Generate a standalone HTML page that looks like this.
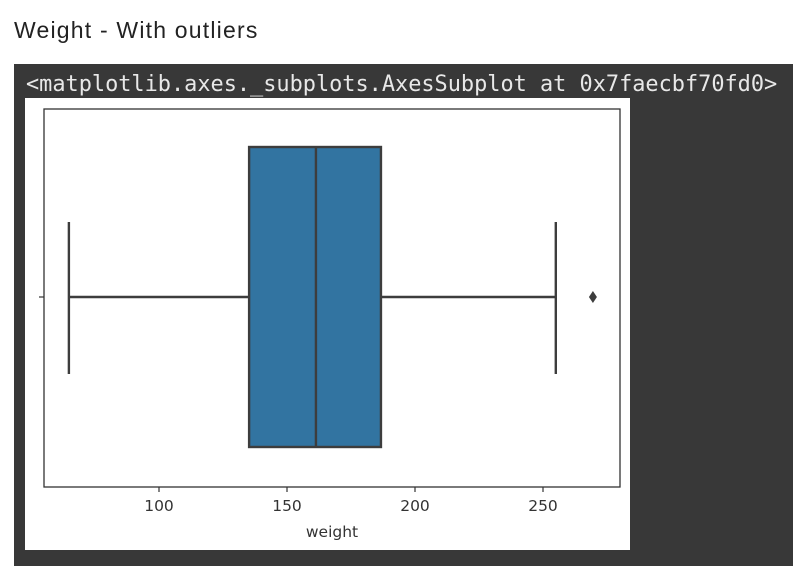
<!DOCTYPE html>
<html><head><meta charset="utf-8"><style>
body{margin:0;background:#fff;width:793px;height:577px;overflow:hidden;position:relative;font-family:"Liberation Sans","DejaVu Sans",sans-serif}
#title{position:absolute;left:14px;top:17px;font-size:23px;letter-spacing:1.2px;color:#222}
#panel{position:absolute;left:14px;top:64px;width:779px;height:502px;background:#383838}
#code{position:absolute;left:26px;top:72px;font-family:"DejaVu Sans Mono","Liberation Mono",monospace;font-size:21.9px;color:#e8e8e8;white-space:pre}
svg{position:absolute;left:25px;top:98px}
</style></head><body>
<div id="title">Weight - With outliers</div>
<div id="panel"></div>
<div id="code">&lt;matplotlib.axes._subplots.AxesSubplot at 0x7faecbf70fd0&gt;</div>
<svg id="chart" width="605" height="452"></svg>
<script>
const tickValues=[100,150,200,250];
const tickLabels=["100","150","200","250"];
const stats=[64.8,135.2,161.3,186.7,255];
const outliers=[269.5];
const NS="http://www.w3.org/2000/svg";
const svg=document.getElementById('chart');
const ox=25, oy=98;
function X(v){return 159-ox+(v-100)*2.56;}
const axTop=109-oy, axBot=487-oy, axLeft=44-ox, axRight=620-ox, cy=297-oy;
function mk(t,a,name){const e=document.createElementNS(NS,t);for(const k in a)e.setAttribute(k,a[k]);


svg.appendChild(e);return e;}
mk('rect',{x:0,y:0,width:605,height:452,fill:'#fff'},'figure-background');
const g='#3d3d3d';
mk('line',{x1:X(stats[0]),x2:X(stats[1]),y1:cy,y2:cy,stroke:g,'stroke-width':2.4},'lower-whisker');
mk('line',{x1:X(stats[3]),x2:X(stats[4]),y1:cy,y2:cy,stroke:g,'stroke-width':2.4},'upper-whisker');
mk('line',{x1:X(stats[0]),x2:X(stats[0]),y1:cy-75,y2:cy+77,stroke:g,'stroke-width':2.4},'lower-cap');
mk('line',{x1:X(stats[4]),x2:X(stats[4]),y1:cy-75,y2:cy+77,stroke:g,'stroke-width':2.4},'upper-cap');
mk('rect',{x:X(stats[1]),y:cy-150,width:X(stats[3])-X(stats[1]),height:300,fill:'#3274a1',stroke:g,'stroke-width':2.4},'iqr-box');
mk('line',{x1:X(stats[2]),x2:X(stats[2]),y1:cy-150,y2:cy+150,stroke:g,'stroke-width':2.4},'median-line');
outliers.forEach(v=>{mk('path',{d:`M${X(v)},${cy-6} L${X(v)+4},${cy} L${X(v)},${cy+6} L${X(v)-4},${cy} Z`,fill:g},'outlier-point');});
mk('rect',{x:axLeft,y:axTop,width:axRight-axLeft,height:axBot-axTop,fill:'none',stroke:'#333','stroke-width':1.3},'axes-frame');
mk('line',{x1:axLeft-5,x2:axLeft,y1:cy,y2:cy,stroke:'#333','stroke-width':1.2},'y-tick');
tickValues.forEach((v,i)=>{
 mk('line',{x1:X(v),x2:X(v),y1:axBot,y2:axBot+5,stroke:'#333','stroke-width':1.2},'x-tick');
 const t=mk('text',{x:X(v),y:axBot+24,'text-anchor':'middle','font-size':15.5,fill:'#333','font-family':'"DejaVu Sans",sans-serif'},'x-tick-label');
 t.textContent=tickLabels[i];
});
const xl=mk('text',{x:(axLeft+axRight)/2,y:axBot+50,'text-anchor':'middle','font-size':15.5,fill:'#333','font-family':'"DejaVu Sans",sans-serif'},'x-axis-title');
xl.textContent='weight';
</script>
</body></html>
